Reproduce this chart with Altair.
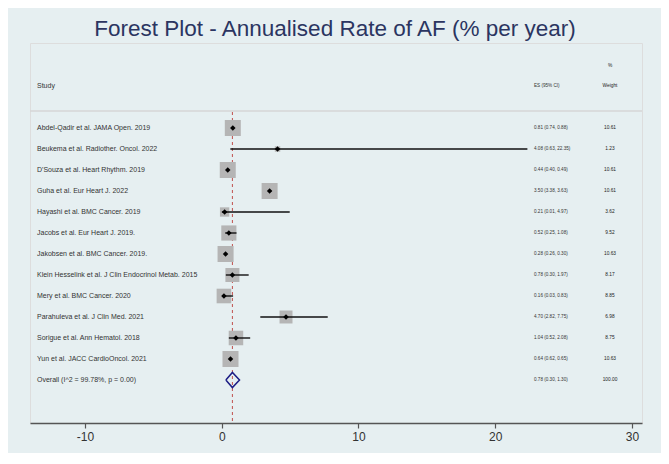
import altair as alt
import pandas as pd

studies = [
    "Abdel-Qadir et al. JAMA Open. 2019",
    "Beukema et al. Radiother. Oncol. 2022",
    "D'Souza et al. Heart Rhythm. 2019",
    "Guha et al. Eur Heart J. 2022",
    "Hayashi et al. BMC Cancer. 2019",
    "Jacobs et al. Eur Heart J. 2019.",
    "Jakobsen et al. BMC Cancer. 2019.",
    "Klein Hesselink et al. J Clin Endocrinol Metab. 2015",
    "Mery et al. BMC Cancer. 2020",
    "Parahuleva et al. J Clin Med. 2021",
    "Sorigue et al. Ann Hematol. 2018",
    "Yun et al. JACC CardioOncol.  2021",
]
es = [0.81, 4.08, 0.44, 3.50, 0.21, 0.52, 0.28, 0.78, 0.16, 4.70, 1.04, 0.64]
lo = [0.74, 0.63, 0.40, 3.38, 0.01, 0.25, 0.26, 0.30, 0.03, 2.82, 0.52, 0.62]
hi = [0.88, 22.35, 0.49, 3.63, 4.97, 1.08, 0.30, 1.97, 0.83, 7.75, 2.08, 0.65]
weights = [10.61, 1.23, 10.61, 10.61, 3.62, 9.52, 10.63, 8.17, 8.85, 6.98, 8.75, 10.63]

overall_label = "Overall  (I^2 = 99.78%, p = 0.00)"
overall_es = 0.78
overall_lo = 0.30
overall_hi = 1.30
overall_weight = 100.00

x_ticks = [-10, 0, 10, 20, 30]
title_text = "Forest Plot - Annualised Rate of AF (% per year)"

W, H = 612, 380
FONT = "Liberation Sans"

rows = pd.DataFrame({
    "study": studies,
    "es": es,
    "lo": lo,
    "hi": hi,
    "weight": weights,
    "row": list(range(len(studies))),
})
rows["es_txt"] = [f"{e:.2f} ({l:.2f}, {h:.2f})" for e, l, h in zip(es, lo, hi)]
rows["w_txt"] = [f"{w:.2f}" for w in weights]

orow = len(studies)
overall = pd.DataFrame({
    "study": [overall_label],
    "row": [orow],
    "es_txt": [f"{overall_es:.2f} ({overall_lo:.2f}, {overall_hi:.2f})"],
    "w_txt": [f"{overall_weight:.2f}"],
})
labels = pd.concat([rows[["study", "row", "es_txt", "w_txt"]], overall], ignore_index=True)

half = 0.36
diamond = pd.DataFrame({
    "x": [overall_lo, overall_es, overall_hi, overall_es, overall_lo],
    "y": [orow, orow - half, orow, orow + half, orow],
    "o": [0, 1, 2, 3, 4],
})

xscale = alt.Scale(domain=[-14.02, 30.73], nice=False, zero=False)
yscale = alt.Scale(domain=[-4.048, 14.048], reverse=True, nice=False, zero=False)

xaxis = alt.Axis(values=x_ticks, title=None, grid=False, domainColor="#555555",
                 domainWidth=1.5, tickColor="#555555", tickWidth=1.2, tickSize=5,
                 labelFontSize=12, labelColor="#333333", labelPadding=3, labelFont=FONT,
                 labelExpr="'' + datum.value")

base = alt.Chart(rows)

squares = base.mark_square(color="#b5b5b5", opacity=1).encode(
    x=alt.X("es:Q", scale=xscale, axis=xaxis),
    y=alt.Y("row:Q", scale=yscale, axis=None),
    size=alt.Size("weight:Q", scale=alt.Scale(domain=[0, 10.61], range=[0, 256]), legend=None),
)

ci = base.mark_rule(color="#111111", strokeWidth=1.4).encode(
    x="lo:Q", x2="hi:Q", y="row:Q",
)

points = base.mark_point(shape="diamond", filled=True, color="#000000", size=30, opacity=1).encode(
    x="es:Q", y="row:Q",
)

sep = alt.Chart(pd.DataFrame({"a": [0]})).mark_rule(color="#d6d6d6", strokeWidth=1.5).encode(
    x=alt.value(0), x2=alt.value(W), y=alt.value(68),
)

refline = alt.Chart(pd.DataFrame({"es": [overall_es]})).mark_rule(
    color="#c0504d", strokeWidth=1, strokeDash=[3, 3]
).encode(x="es:Q", y=alt.value(69), y2=alt.value(H))

dia = alt.Chart(diamond).mark_line(color="#1c1c84", strokeWidth=1.5).encode(
    x="x:Q", y="y:Q", order="o:Q",
)

study_txt = alt.Chart(labels).mark_text(align="left", baseline="middle", fontSize=7,
                                         font=FONT, color="#333333").encode(
    x=alt.value(7), y="row:Q", text="study:N",
)
es_txt = alt.Chart(labels).mark_text(align="left", baseline="middle", fontSize=4.6,
                                      font=FONT, color="#333333").encode(
    x=alt.value(504), y="row:Q", text="es_txt:N",
)
w_txt = alt.Chart(labels).mark_text(align="center", baseline="middle", fontSize=4.8,
                                     font=FONT, color="#222222").encode(
    x=alt.value(580), y="row:Q", text="w_txt:N",
)

headers = pd.DataFrame({
    "t": ["Study", "ES (95% CI)", "Weight", "%"],
    "row": [-2.0, -2.0, -2.0, -2.95],
})
hdr_study = alt.Chart(headers.iloc[[0]]).mark_text(align="left", baseline="middle", fontSize=7,
                                                    font=FONT, color="#333333").encode(
    x=alt.value(7), y="row:Q", text="t:N")
hdr_es = alt.Chart(headers.iloc[[1]]).mark_text(align="left", baseline="middle", fontSize=4.6,
                                                 font=FONT, color="#333333").encode(
    x=alt.value(504), y="row:Q", text="t:N")
hdr_w = alt.Chart(headers.iloc[[2, 3]]).mark_text(align="center", baseline="middle", fontSize=4.8,
                                                   font=FONT, color="#222222").encode(
    x=alt.value(580), y="row:Q", text="t:N")

title = alt.Chart(pd.DataFrame({"t": [title_text]})).mark_text(
    align="center", baseline="alphabetic", fontSize=22.5, font=FONT, color="#2b3561"
).encode(x=alt.value(W / 2 - 1), y=alt.value(-7), text="t:N")

chart = alt.layer(
    sep, refline, squares, ci, points, dia, study_txt, es_txt, w_txt,
    hdr_study, hdr_es, hdr_w, title
).properties(
    width=W, height=H,
    autosize=alt.AutoSizeParams(type="none"),
    padding={"left": 22, "top": 35, "right": 19, "bottom": 30},
    background="#e6eff1",
).configure_view(fill="white", stroke=None).configure(font=FONT)

chart.save("out.html", embed_options={"renderer": "svg", "actions": False})
